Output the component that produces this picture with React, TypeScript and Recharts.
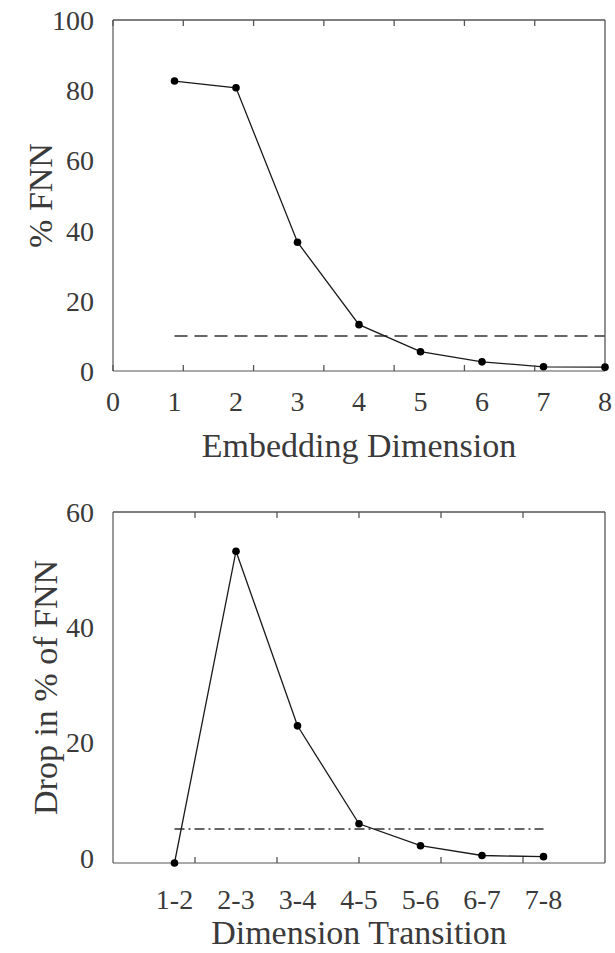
import React from "react";
import { LineChart, Line, XAxis, YAxis, ReferenceLine } from "recharts";

// top panel: % false nearest neighbours per embedding dimension
const embedDims = [1, 2, 3, 4, 5, 6, 7, 8];
const fnnPct = [82.6, 80.7, 36.7, 13.2, 5.5, 2.6, 1.2, 1.1];
const topXTicks = [0, 1, 2, 3, 4, 5, 6, 7, 8];
const topYTicks = [0, 20, 40, 60, 80, 100];
const fnnThreshold = 10;
const fnnThresholdSpan = [1, 8];

// bottom panel: drop in %FNN between consecutive dimensions
const transitions = ["1-2", "2-3", "3-4", "4-5", "5-6", "6-7", "7-8"];
const transitionPos = [1, 2, 3, 4, 5, 6, 7];
const fnnDrop = [-0.9, 53.2, 22.9, 5.9, 2.1, 0.4, 0.2];
const bottomYTicks = [0, 20, 40, 60];
const dropThreshold = 5;
const dropThresholdSpan = [1, 7];

const topData = embedDims.map((d, i) => ({ x: d, y: fnnPct[i] }));
const bottomData = transitionPos.map((p, i) => ({ x: p, y: fnnDrop[i], name: transitions[i] }));

const FONT = '"Liberation Serif", "Times New Roman", serif';
const TEXT = "#3a3a3a";
const AXIS = "#555";
const INK = "#1a1a1a";

const tickStyle = { fontFamily: FONT, fontSize: 28, fill: TEXT };
const titleStyle = { fontFamily: FONT, fontSize: 34, fill: TEXT };

const noLabel = () => <g />;

// mirrored axes draw the box's top/right edges and the inward tick marks
function frame(xTicks: number[], yTicks: number[], yDomain: [number, number]) {
  const common = { stroke: AXIS, strokeWidth: 1.3, tickSize: 6, tick: noLabel, mirror: true, type: "number" as const };
  return [
    <XAxis key="bm" xAxisId="bm" orientation="bottom" domain={[0, 8]} ticks={xTicks} height={10} axisLine={false} {...common} />,
    <XAxis key="tm" xAxisId="tm" orientation="top" domain={[0, 8]} ticks={xTicks} height={10} {...common} />,
    <YAxis key="lm" yAxisId="lm" orientation="left" domain={yDomain} ticks={yTicks} width={10} axisLine={false} {...common} />,
    <YAxis key="rm" yAxisId="rm" orientation="right" domain={yDomain} ticks={yTicks} width={10} {...common} />,
  ];
}

function App() {
  return (
    <div style={{ position: "absolute", left: 0, top: 0, width: 615, height: 953, background: "#fff" }}>
      <LineChart
        width={615}
        height={470}
        data={topData}
        margin={{ top: 20, right: 10, bottom: 9, left: 0 }}
        style={{ position: "absolute", left: 0, top: 0 }}
      >
        <XAxis
          dataKey="x"
          type="number"
          domain={[0, 8]}
          ticks={topXTicks}
          height={90}
          tickLine={false}
          tickMargin={14}
          tick={tickStyle}
          stroke={AXIS}
          strokeWidth={1.2}
          label={{ value: "Embedding Dimension", position: "insideBottom", offset: 4, style: titleStyle }}
        />
        <YAxis
          type="number"
          domain={[0, 100]}
          ticks={topYTicks}
          width={113}
          tickLine={false}
          tickMargin={13}
          tick={tickStyle}
          stroke={AXIS}
          strokeWidth={1.2}
          label={{ value: "% FNN", angle: -90, position: "insideLeft", offset: 40, style: { ...titleStyle, textAnchor: "middle" } }}
        />
        {frame(topXTicks, topYTicks, [0, 100])}
        <ReferenceLine
          segment={[
            { x: fnnThresholdSpan[0], y: fnnThreshold },
            { x: fnnThresholdSpan[1], y: fnnThreshold },
          ]}
          stroke="#333"
          strokeWidth={1.5}
          strokeDasharray="13 7"
        />
        <Line
          dataKey="y"
          type="linear"
          stroke={INK}
          strokeWidth={1.3}
          dot={{ r: 3.8, fill: "#000", stroke: "none" }}
          isAnimationActive={false}
        />
      </LineChart>

      <LineChart
        width={615}
        height={483}
        data={bottomData}
        margin={{ top: 42, right: 10, bottom: 0, left: 0 }}
        style={{ position: "absolute", left: 0, top: 470 }}
      >
        <XAxis
          dataKey="x"
          type="number"
          domain={[0, 8]}
          ticks={transitionPos}
          tickFormatter={(v: number) => transitions[transitionPos.indexOf(v)] ?? ""}
          height={90}
          tickLine={false}
          tickMargin={20}
          tick={tickStyle}
          stroke={AXIS}
          strokeWidth={1.2}
          label={{ value: "Dimension Transition", position: "insideBottom", offset: 9, style: titleStyle }}
        />
        <YAxis
          type="number"
          domain={[-0.9, 60]}
          ticks={bottomYTicks}
          width={113}
          tickLine={false}
          tickMargin={13}
          tick={tickStyle}
          stroke={AXIS}
          strokeWidth={1.2}
          label={{ value: "Drop in % of FNN", angle: -90, position: "insideLeft", offset: 45, style: { ...titleStyle, textAnchor: "middle" } }}
        />
        {frame(transitionPos, bottomYTicks, [-0.9, 60])}
        <ReferenceLine
          segment={[
            { x: dropThresholdSpan[0], y: dropThreshold },
            { x: dropThresholdSpan[1], y: dropThreshold },
          ]}
          stroke="#333"
          strokeWidth={1.3}
          strokeDasharray="10 4 2 4"
        />
        <Line
          dataKey="y"
          type="linear"
          stroke={INK}
          strokeWidth={1.3}
          dot={{ r: 3.8, fill: "#000", stroke: "none" }}
          isAnimationActive={false}
        />
      </LineChart>
    </div>
  );
}

export default App;
